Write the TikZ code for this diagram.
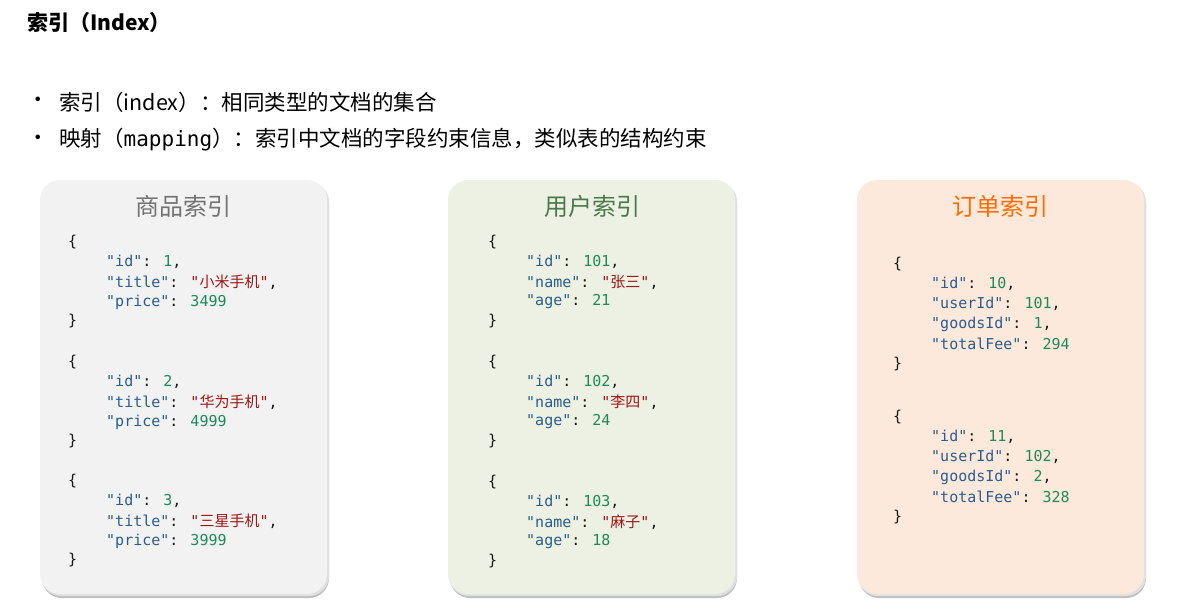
\documentclass[tikz,border=0pt]{standalone}
\usepackage{fontspec}
\setmainfont{Noto Sans CJK SC}
\newfontfamily\cjk{Noto Sans CJK SC}
\newfontfamily\codef{DejaVu Sans Mono}
\definecolor{kyc}{HTML}{2A5D8F}
\definecolor{stc}{HTML}{A31515}
\definecolor{nmc}{HTML}{1E8A5A}
\definecolor{gfill}{HTML}{F2F2F2}
\definecolor{grfill}{HTML}{ECF1E3}
\definecolor{ofill}{HTML}{FDE9DC}
\newcommand\ky[1]{\textcolor{kyc}{"#1"}}
\newcommand\st[1]{\textcolor{stc}{"{\cjk #1}"}}
\newcommand\nm[1]{\textcolor{nmc}{#1}}
\tikzset{
  panel/.style={rounded corners=20pt, line width=0pt, draw=none},
  code/.style={anchor=west, inner sep=0pt, font=\codef\fontsize{15}{17}\selectfont, text=black!90},
  ptitle/.style={anchor=center, font=\cjk\fontsize{24}{27}\selectfont},
  btext/.style={anchor=west,inner sep=0pt,font=\fontsize{21.5}{24}\selectfont},
}
\begin{document}
\begin{tikzpicture}[x=1pt,y=-1pt]
\useasboundingbox (0,0) rectangle (1192,616);
\fill[white] (0,0) rectangle (1192,616);
\node[anchor=west,inner sep=0pt,font=\bfseries\fontsize{21}{24}\selectfont] (hd) at (27,23) {索引（Index）};
\node[btext] (b1d) at (27,102) {•};
\node[btext] (b2d) at (27,140) {•};
\node[btext] (b1) at (59,102) {索引（index）：相同类型的文档的集合};
\node[btext] (b2) at (59,140) {映射（{\codef\fontsize{21}{24}\selectfont mapping}）：索引中文档的字段约束信息，类似表的结构约束};
\foreach \x/\c in {40/gfill,448/grfill,857/ofill}{
  \fill[black!25,rounded corners=20pt] (\x+2,184) rectangle (\x+289,598);
  \fill[black!12,rounded corners=20pt] (\x+1,182) rectangle (\x+289,596);
  \fill[\c,panel] (\x,180) rectangle (\x+287,594);
}
\node[ptitle,text=black!55] (t1) at (183,206) {商品索引};
\node[ptitle,text=green!25!black!70] (t2) at (592,206) {用户索引};
\node[ptitle,text=orange!85!red] (t3) at (1000,206) {订单索引};
\foreach \y/\i/\t/\p in {242/1/小米手机/3499,362/2/华为手机/4999,481/3/三星手机/3999}{
  \node[code] at (68,\y) {\{};
  \node[code] at (106,\y+20) {\ky{id}: \nm{\i},};
  \node[code] at (106,\y+40) {\ky{title}: \st{\t},};
  \node[code] at (106,\y+60) {\ky{price}: \nm{\p}};
  \node[code] at (68,\y+79) {\}};
}
\foreach \y/\i/\t/\p in {242/101/张三/21,362/102/李四/24,482/103/麻子/18}{
  \node[code] at (488,\y) {\{};
  \node[code] at (526,\y+20) {\ky{id}: \nm{\i},};
  \node[code] at (526,\y+40) {\ky{name}: \st{\t},};
  \node[code] at (526,\y+60) {\ky{age}: \nm{\p}};
  \node[code] at (488,\y+79) {\}};
}
\foreach \y/\i/\u/\g/\f in {264/10/101/1/294,417/11/102/2/328}{
  \node[code] at (893,\y) {\{};
  \node[code] at (931,\y+20) {\ky{id}: \nm{\i},};
  \node[code] at (931,\y+40) {\ky{userId}: \nm{\u},};
  \node[code] at (931,\y+60) {\ky{goodsId}: \nm{\g},};
  \node[code] at (931,\y+80) {\ky{totalFee}: \nm{\f}};
  \node[code] at (893,\y+100) {\}};
}
\end{tikzpicture}
\end{document}
